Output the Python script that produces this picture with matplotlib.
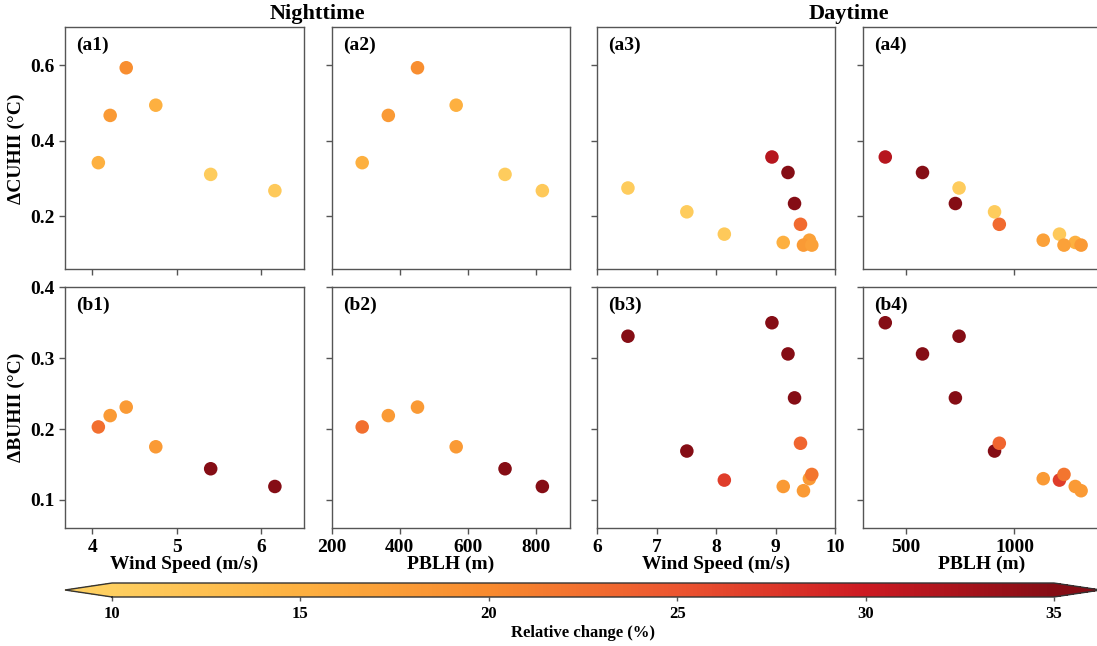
import numpy as np
import matplotlib
matplotlib.use("Agg")
import matplotlib.pyplot as plt
from matplotlib.colors import LinearSegmentedColormap, Normalize

plt.rcParams['font.family'] = ['Liberation Serif', 'DejaVu Serif']
plt.rcParams['font.weight'] = 'bold'

# ---------------- data ----------------
night_ws = [4.07, 4.21, 4.40, 4.75, 5.40, 6.16]
night_pblh = [289, 366, 452, 566, 710, 820]
night_dcuhii = [0.342, 0.467, 0.593, 0.494, 0.311, 0.268]
night_dbuhii = [0.203, 0.219, 0.231, 0.175, 0.144, 0.119]
night_rc_cuhii = [15.0, 18.0, 19.5, 15.0, 10.5, 11.0]
night_rc_buhii = [22.5, 18.0, 18.0, 18.0, 36.0, 36.0]

day_ws = [6.52, 7.51, 8.14, 8.94, 9.21, 9.32, 9.42, 9.13, 9.57, 9.47, 9.61]
day_pblh = [744, 908, 1208, 403, 575, 727, 930, 1281, 1133, 1308, 1229]
day_dcuhii = [0.275, 0.212, 0.153, 0.357, 0.316, 0.234, 0.179, 0.131, 0.137, 0.124, 0.124]
day_dbuhii = [0.331, 0.169, 0.128, 0.350, 0.306, 0.244, 0.180, 0.119, 0.130, 0.113, 0.136]
day_rc_cuhii = [10.5, 10.5, 11.0, 31.5, 36.0, 36.0, 23.0, 15.0, 17.0, 18.0, 17.0]
day_rc_buhii = [36.0, 36.0, 27.0, 36.0, 36.0, 36.0, 23.5, 18.0, 18.0, 18.0, 22.0]

cbar_ticks = [10, 15, 20, 25, 30, 35]
panel_labels = [['(a1)', '(a2)', '(a3)', '(a4)'], ['(b1)', '(b2)', '(b3)', '(b4)']]
row_ylabels = ['ΔCUHII (°C)', 'ΔBUHII (°C)']
col_xlabels = ['Wind Speed (m/s)', 'PBLH (m)', 'Wind Speed (m/s)', 'PBLH (m)']

# ---------------- style ----------------
cmap = LinearSegmentedColormap.from_list(
    'rc', ['#fecf60', '#fdb040', '#f88a2e', '#ec5530', '#cd1a22', '#850d15'])
cmap.set_under('#fecf60')
cmap.set_over('#850d15')
norm = Normalize(vmin=10, vmax=35)

W, H = 1097, 646
fig = plt.figure(figsize=(W / 100, H / 100), dpi=100)

col_lr = [(65.4, 303.6), (332.0, 569.5), (597.0, 835.0), (863.0, 1101.0)]
row_tb = [(27.3, 269.3), (287.3, 528.3)]

xlims = [(3.68, 6.5), (200, 900), (6, 10), (300, 1400)]
xticks = [[4, 5, 6], [200, 400, 600, 800], [6, 7, 8, 9, 10], [500, 1000]]
ylims = [(0.06, 0.70), (0.06, 0.40)]
yticks = [[0.2, 0.4, 0.6], [0.1, 0.2, 0.3, 0.4]]

xs = [night_ws, night_pblh, day_ws, day_pblh]
ys = [[night_dcuhii, night_dcuhii, day_dcuhii, day_dcuhii],
      [night_dbuhii, night_dbuhii, day_dbuhii, day_dbuhii]]
cs = [[night_rc_cuhii, night_rc_cuhii, day_rc_cuhii, day_rc_cuhii],
      [night_rc_buhii, night_rc_buhii, day_rc_buhii, day_rc_buhii]]

spine_col = '#555555'
for r in range(2):
    t, b = row_tb[r]
    for c in range(4):
        l, rr = col_lr[c]
        ax = fig.add_axes([l / W, 1 - b / H, (rr - l) / W, (b - t) / H])
        ax.scatter(xs[c], ys[r][c], c=cs[r][c], cmap=cmap, norm=norm,
                   s=95, edgecolors='none', zorder=3)
        ax.set_xlim(*xlims[c])
        ax.set_ylim(*ylims[r])
        ax.set_xticks(xticks[c])
        ax.set_yticks(yticks[r])
        for sp in ax.spines.values():
            sp.set_color(spine_col)
            sp.set_linewidth(1.0)
        ax.tick_params(direction='out', length=4, width=1, color=spine_col,
                       labelsize=14)
        if c != 0:
            ax.set_yticklabels([])
        else:
            ax.set_ylabel(row_ylabels[r], fontsize=14, fontweight='bold', labelpad=4)
            for lab in ax.get_yticklabels():
                lab.set_fontweight('bold')
        if r == 0:
            ax.set_xticklabels([])
        else:
            ax.set_xlabel(col_xlabels[c], fontsize=14, fontweight='bold', labelpad=0)
            for lab in ax.get_xticklabels():
                lab.set_fontweight('bold')
        ax.text(0.045, 0.925, panel_labels[r][c], transform=ax.transAxes,
                fontsize=14, fontweight='bold', va='center', ha='left')

fig.text((65.4 + 569.5) / 2 / W, 1 - 14 / H, 'Nighttime', fontsize=16,
         fontweight='bold', ha='center', va='center')
fig.text((597.0 + 1101.0) / 2 / W, 1 - 14 / H, 'Daytime', fontsize=16,
         fontweight='bold', ha='center', va='center')

cax = fig.add_axes([65.0 / W, 1 - 597.0 / H, (1101.0 - 65.0) / W, 14.0 / H])
sm = plt.cm.ScalarMappable(cmap=cmap, norm=norm)
cb = fig.colorbar(sm, cax=cax, orientation='horizontal', extend='both',
                  extendfrac=0.05, ticks=cbar_ticks)
cb.outline.set_edgecolor('#333333')
cb.outline.set_linewidth(1.0)
cax.tick_params(direction='out', length=3, width=1, color=spine_col, labelsize=12)
for lab in cax.get_xticklabels():
    lab.set_fontweight('bold')
cb.set_label('Relative change (%)', fontsize=12, fontweight='bold', labelpad=2)

fig.savefig('out.png', dpi=100)
